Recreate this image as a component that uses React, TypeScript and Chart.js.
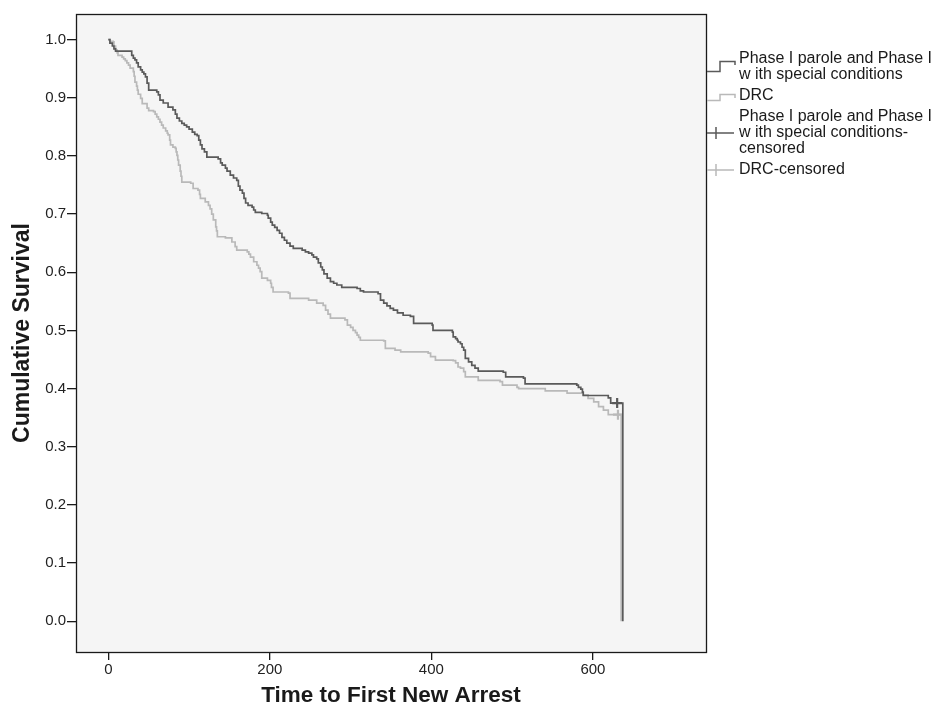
import React, { useEffect, useRef } from 'react';
import { Chart, registerables } from 'chart.js';

Chart.register(...registerables);

// ---- data ----
const xTickValues = [0, 200, 400, 600];
const yTickValues = [0.0, 0.1, 0.2, 0.3, 0.4, 0.5, 0.6, 0.7, 0.8, 0.9, 1.0];

const phaseTimes = [0,2,5,7,9,29,31,33,35,37,40,42,44,46,48,50,60,62,64,68,74,80,83,85,88,91,94,97,100,104,107,110,112,114,116,119,122,136,139,141,145,147,151,155,159,161,163,166,168,170,173,178,180,182,190,197,198,201,203,206,209,212,215,218,221,225,229,240,244,248,252,254,258,260,263,265,267,271,275,279,283,289,308,312,316,334,337,341,345,349,353,358,365,374,378,401,402,426,427,430,432,433,436,438,440,442,446,450,454,458,489,492,514,516,580,582,585,587,588,619,622,637];
const phaseSurv = [1.000,0.994,0.989,0.984,0.980,0.973,0.968,0.965,0.960,0.953,0.948,0.944,0.941,0.936,0.925,0.913,0.910,0.905,0.896,0.891,0.884,0.879,0.872,0.865,0.860,0.856,0.853,0.850,0.846,0.841,0.837,0.835,0.827,0.819,0.812,0.807,0.798,0.795,0.788,0.784,0.779,0.774,0.767,0.762,0.758,0.748,0.741,0.736,0.727,0.719,0.715,0.712,0.707,0.703,0.701,0.698,0.693,0.686,0.681,0.677,0.672,0.667,0.660,0.655,0.650,0.645,0.641,0.638,0.635,0.633,0.630,0.626,0.623,0.616,0.609,0.604,0.597,0.590,0.584,0.581,0.578,0.574,0.572,0.568,0.566,0.563,0.552,0.547,0.542,0.538,0.535,0.530,0.526,0.524,0.512,0.509,0.500,0.497,0.489,0.486,0.483,0.480,0.477,0.471,0.466,0.452,0.446,0.440,0.435,0.430,0.428,0.420,0.418,0.408,0.406,0.402,0.399,0.394,0.388,0.384,0.375,0];

const drcTimes = [0,2,6,7,9,11,12,17,19,21,23,25,27,31,32,33,35,36,37,40,42,48,50,56,58,60,62,64,66,68,71,73,74,76,77,80,83,84,85,86,87,89,90,91,102,105,111,113,114,120,124,126,128,130,133,134,135,145,153,157,159,172,174,176,180,184,186,188,190,197,201,202,204,223,225,248,258,266,269,272,275,293,296,300,303,306,308,310,312,341,343,355,362,396,399,405,427,430,433,436,440,442,458,485,488,506,508,541,568,588,594,601,607,613,619,635];
const drcSurv = [1.000,0.997,0.996,0.989,0.982,0.977,0.973,0.970,0.967,0.964,0.960,0.956,0.951,0.945,0.937,0.927,0.920,0.913,0.906,0.899,0.890,0.882,0.878,0.876,0.872,0.867,0.863,0.858,0.853,0.848,0.843,0.839,0.836,0.827,0.819,0.815,0.813,0.807,0.801,0.793,0.784,0.774,0.765,0.755,0.753,0.744,0.741,0.734,0.727,0.721,0.715,0.709,0.700,0.690,0.678,0.671,0.661,0.659,0.652,0.644,0.638,0.635,0.631,0.626,0.618,0.612,0.607,0.601,0.590,0.586,0.581,0.574,0.566,0.564,0.555,0.552,0.547,0.543,0.535,0.528,0.521,0.518,0.509,0.505,0.500,0.496,0.492,0.488,0.483,0.482,0.469,0.466,0.463,0.461,0.455,0.449,0.448,0.444,0.437,0.435,0.429,0.420,0.414,0.412,0.406,0.402,0.400,0.396,0.392,0.389,0.383,0.377,0.369,0.363,0.355,0];

const phaseCensorTimes = [630];
const phaseCensorSurv = [0.375];
const drcCensorTimes = [631];
const drcCensorSurv = [0.355];

const seriesNames = [
  'Phase I parole and Phase I w ith special conditions',
  'DRC',
  'Phase I parole and Phase I w ith special conditions-censored',
  'DRC-censored',
];
const legendLines = [
  ['Phase I parole and Phase I', 'w ith special conditions'],
  ['DRC'],
  ['Phase I parole and Phase I', 'w ith special conditions-', 'censored'],
  ['DRC-censored'],
];

const xTitle = 'Time to First New Arrest';
const yTitle = 'Cumulative Survival';

// ---- styles ----
const DARK = '#5a5a5a';
const LIGHT = '#b9b9b9';
const FONT = '"Liberation Sans", Arial, Helvetica, sans-serif';

const frameAndLegend = {
  id: 'frameAndLegend',
  beforeDraw(chart: any) {
    const { ctx, chartArea: a } = chart;
    ctx.save();
    ctx.fillStyle = '#ffffff';
    ctx.fillRect(0, 0, chart.width, chart.height);
    ctx.fillStyle = '#f5f5f5';
    ctx.fillRect(a.left, a.top, a.right - a.left, a.bottom - a.top);
    ctx.restore();
  },
  afterDraw(chart: any) {
    const { ctx, chartArea: a } = chart;
    ctx.save();
    ctx.strokeStyle = '#1a1a1a';
    ctx.lineWidth = 1.3;
    ctx.strokeRect(Math.round(a.left) + 0.5, Math.round(a.top) + 0.5,
      Math.round(a.right - a.left), Math.round(a.bottom - a.top));

    // legend
    const tx = 739;
    const lh = 16;
    ctx.font = '16px ' + FONT;
    ctx.fillStyle = '#1a1a1a';
    ctx.textBaseline = 'middle';
    ctx.textAlign = 'left';
    const tops = [58.5, 96, 117, 170];
    legendLines.forEach((lines, i) => {
      lines.forEach((s, j) => ctx.fillText(s, tx, tops[i] + j * lh));
    });
    ctx.lineWidth = 1.5;
    // step icons
    ctx.strokeStyle = DARK;
    ctx.beginPath();
    ctx.moveTo(707, 71.5); ctx.lineTo(720, 71.5); ctx.lineTo(720, 61.5);
    ctx.lineTo(735, 61.5); ctx.lineTo(735, 65);
    ctx.stroke();
    ctx.strokeStyle = LIGHT;
    ctx.beginPath();
    ctx.moveTo(707, 100.5); ctx.lineTo(720, 100.5); ctx.lineTo(720, 94.5);
    ctx.lineTo(735, 94.5); ctx.lineTo(735, 98);
    ctx.stroke();
    // cross icons
    ctx.strokeStyle = DARK;
    ctx.beginPath();
    ctx.moveTo(707, 133); ctx.lineTo(734, 133);
    ctx.moveTo(716, 127); ctx.lineTo(716, 139);
    ctx.stroke();
    ctx.strokeStyle = LIGHT;
    ctx.beginPath();
    ctx.moveTo(707, 170); ctx.lineTo(734, 170);
    ctx.moveTo(716, 164); ctx.lineTo(716, 176);
    ctx.stroke();
    ctx.restore();
  },
};

export default function App() {
  const ref = useRef<HTMLCanvasElement | null>(null);

  useEffect(() => {
    document.body.style.margin = '0';
    const canvas = ref.current;
    if (!canvas) return;
    const chart = new Chart(canvas, {
      type: 'line',
      data: {
        datasets: [
          {
            label: seriesNames[0],
            data: phaseTimes.map((t, i) => ({ x: t, y: phaseSurv[i] })),
            stepped: true,
            borderColor: DARK,
            borderWidth: 1.7,
            pointRadius: 0,
            fill: false,
          },
          {
            label: seriesNames[1],
            data: drcTimes.map((t, i) => ({ x: t, y: drcSurv[i] })),
            stepped: true,
            borderColor: LIGHT,
            borderWidth: 1.7,
            pointRadius: 0,
            fill: false,
          },
          {
            label: seriesNames[2],
            data: phaseCensorTimes.map((t, i) => ({ x: t, y: phaseCensorSurv[i] })),
            showLine: false,
            pointStyle: 'cross',
            pointRadius: 5,
            pointBorderWidth: 2.2,
            borderColor: DARK,
            pointBorderColor: DARK,
          },
          {
            label: seriesNames[3],
            data: drcCensorTimes.map((t, i) => ({ x: t, y: drcCensorSurv[i] })),
            showLine: false,
            pointStyle: 'cross',
            pointRadius: 5,
            pointBorderWidth: 2.2,
            borderColor: LIGHT,
            pointBorderColor: LIGHT,
          },
        ],
      },
      options: {
        responsive: false,
        animation: false,
        events: [],
        layout: { padding: { top: 14, right: 234, left: 0, bottom: 0 } },
        plugins: {
          legend: { display: false },
          tooltip: { enabled: false },
        },
        scales: {
          x: {
            type: 'linear',
            min: -40,
            max: 740,
            afterBuildTicks: (s: any) => { s.ticks = xTickValues.map((v) => ({ value: v })); },
            afterFit: (s: any) => { s.height = 70; },
            border: { display: false },
            grid: { drawOnChartArea: false, drawTicks: true, tickLength: 8, color: '#1a1a1a', lineWidth: 1.3 },
            ticks: {
              padding: 1,
              color: '#222',
              font: { family: FONT, size: 15 },
              maxRotation: 0,
              callback: (v: any) => String(v),
            },
            title: {
              display: true,
              text: xTitle,
              color: '#1a1a1a',
              font: { family: FONT, size: 22.5, weight: 'bold' },
              padding: { top: 0, bottom: 13 },
            },
          },
          y: {
            type: 'linear',
            min: -0.053,
            max: 1.044,
            afterBuildTicks: (s: any) => { s.ticks = yTickValues.map((v) => ({ value: v })); },
            afterFit: (s: any) => { s.width = 76; },
            border: { display: false },
            grid: { drawOnChartArea: false, drawTicks: true, tickLength: 9, color: '#1a1a1a', lineWidth: 1.3 },
            ticks: {
              padding: 1,
              color: '#222',
              font: { family: FONT, size: 15 },
              callback: (v: any) => Number(v).toFixed(1),
            },
            title: {
              display: true,
              text: yTitle,
              color: '#1a1a1a',
              font: { family: FONT, size: 23, weight: 'bold' },
              padding: { top: 9, bottom: 0 },
            },
          },
        },
      },
      plugins: [frameAndLegend],
    } as any);
    return () => chart.destroy();
  }, []);

  return (
    <div style={{ width: 940, height: 722 }}>
      <canvas ref={ref} width={940} height={722} style={{ display: 'block' }} />
    </div>
  );
}
